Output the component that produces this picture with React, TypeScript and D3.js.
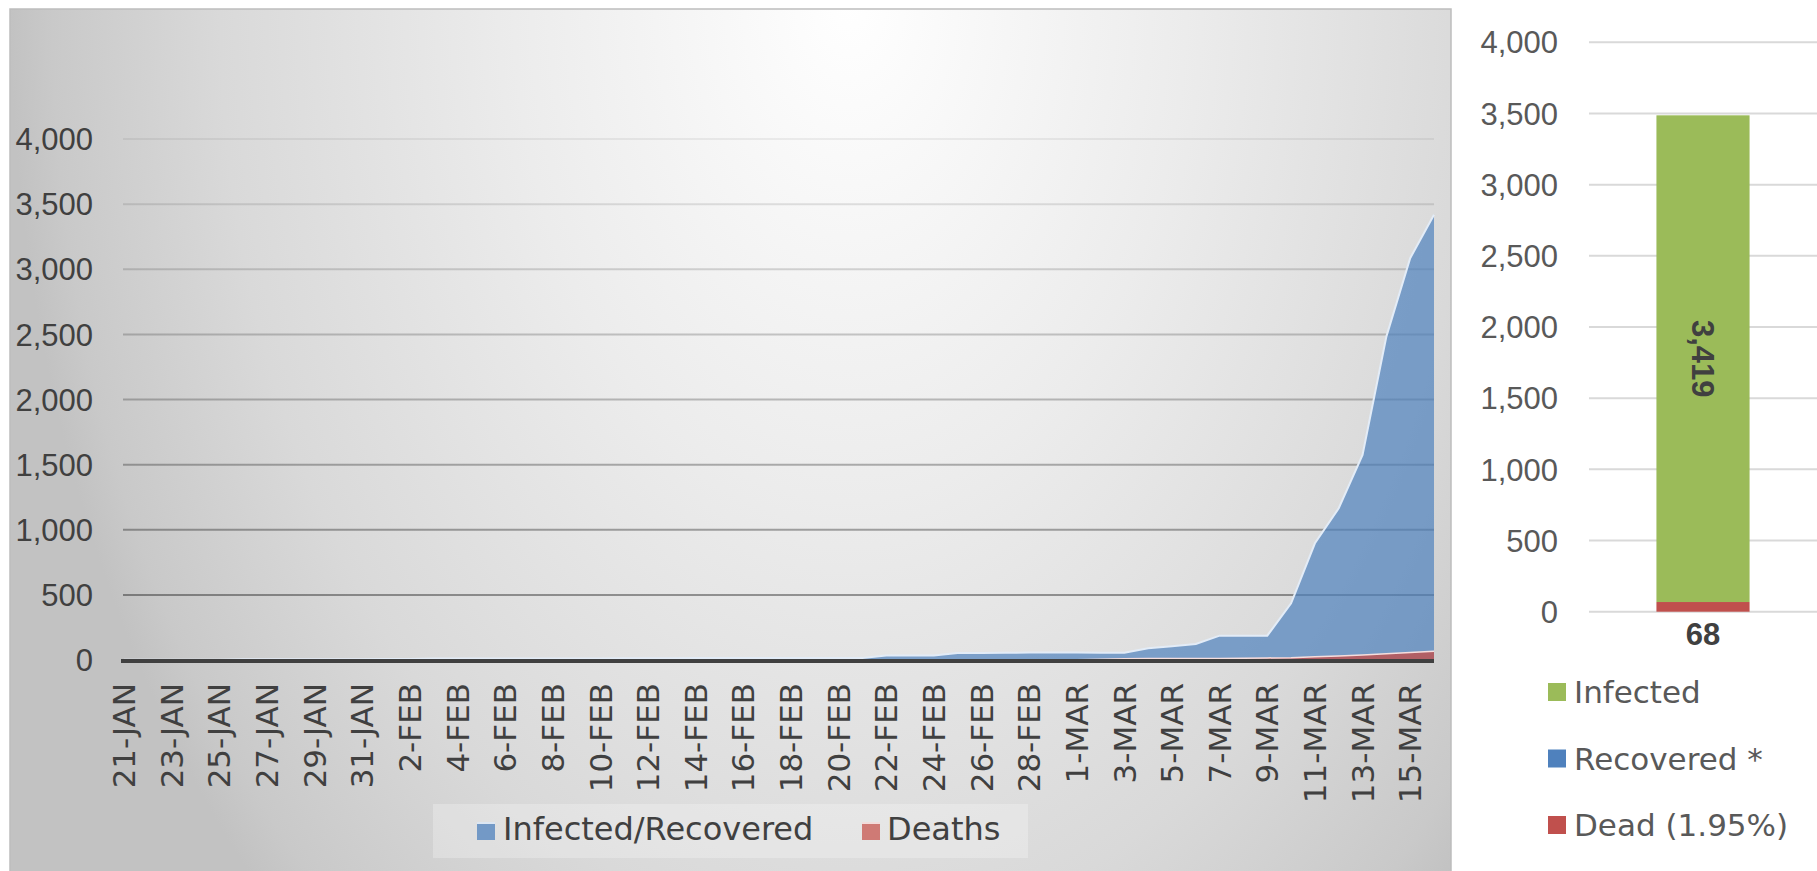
import React from 'react';
import * as d3 from 'd3';

const dates = [
  '21-JAN', '22-JAN', '23-JAN', '24-JAN', '25-JAN', '26-JAN', '27-JAN', '28-JAN', '29-JAN', '30-JAN', '31-JAN',
  '1-FEB', '2-FEB', '3-FEB', '4-FEB', '5-FEB', '6-FEB', '7-FEB', '8-FEB', '9-FEB', '10-FEB',
  '11-FEB', '12-FEB', '13-FEB', '14-FEB', '15-FEB', '16-FEB', '17-FEB', '18-FEB', '19-FEB', '20-FEB',
  '21-FEB', '22-FEB', '23-FEB', '24-FEB', '25-FEB', '26-FEB', '27-FEB', '28-FEB', '29-FEB',
  '1-MAR', '2-MAR', '3-MAR', '4-MAR', '5-MAR', '6-MAR', '7-MAR', '8-MAR', '9-MAR', '10-MAR',
  '11-MAR', '12-MAR', '13-MAR', '14-MAR', '15-MAR', '16-MAR',
];

const infectedRecovered = [
  1, 1, 1, 2, 2, 5, 5, 5, 5, 5, 6,
  8, 8, 11, 11, 11, 12, 12, 12, 12, 12,
  13, 13, 14, 15, 15, 15, 15, 15, 15, 15,
  15, 35, 35, 35, 53, 53, 55, 57, 58,
  57, 56, 55, 90, 105, 123, 187, 187, 187, 435,
  896, 1165, 1574, 2483, 3085, 3419,
];

const deaths = [
  0, 0, 0, 0, 0, 0, 0, 0, 0, 0, 0,
  0, 0, 0, 0, 0, 0, 0, 0, 0, 0,
  0, 0, 0, 0, 0, 0, 0, 0, 0, 0,
  0, 0, 0, 0, 0, 0, 0, 0, 1,
  1, 6, 9, 11, 12, 12, 12, 14, 16, 18,
  25, 30, 38, 48, 58, 68,
];

const yTicks = [0, 500, 1000, 1500, 2000, 2500, 3000, 3500, 4000];

// summary bar on the right
const barCategory = ['Total'];
const barSeries = ['Dead (1.95%)', 'Recovered *', 'Infected'];
const barValues = [68, 0, 3419];
const barColors = ['#c0504d', '#4f81bd', '#9bbb59'];
const legendOrder = ['Infected', 'Recovered *', 'Dead (1.95%)'];

const numFont = '"Liberation Sans", Arial, sans-serif';
const textFont = '"DejaVu Sans", Verdana, sans-serif';

export default function App() {
  const x = d3.scalePoint<string>().domain(dates).range([124, 1434]);
  const y = d3.scaleLinear().domain([0, 4000]).range([660, 139]);

  const area = d3
    .area<number>()
    .x((_, i) => x(dates[i]) as number)
    .y0(y(0))
    .y1((d) => y(d));
  const line = d3
    .line<number>()
    .x((_, i) => x(dates[i]) as number)
    .y((d) => y(d));

  const gridAlpha = d3.scaleLinear().domain([0, 4000]).range([0.42, 0.06]);

  const yR = d3.scaleLinear().domain([0, 4000]).range([611.7, 42.3]);
  const xR = d3.scaleBand().domain(barCategory).range([1589, 1817]).paddingInner(0.42).paddingOuter(0.42);

  const stack = d3.stack<any>().keys(barSeries)([
    Object.fromEntries(barSeries.map((s, i) => [s, barValues[i]])),
  ]);
  const bx = xR(barCategory[0]) as number;
  const bw = xR.bandwidth();
  const infSeg = stack[2][0];
  const deadSeg = stack[0][0];

  return (
    <svg
      width={1817}
      height={871}
      style={{ position: 'absolute', left: 0, top: 0, display: 'block' }}
    >
      <defs>
        <radialGradient
          id="bg"
          gradientUnits="userSpaceOnUse"
          cx={850}
          cy={0}
          r={1}
          gradientTransform="translate(850,0) scale(840,1250) translate(-850,0)"
        >
          <stop offset="0" stopColor="#ffffff" />
          <stop offset="0.4" stopColor="#ececec" />
          <stop offset="0.75" stopColor="#d9d9d9" />
          <stop offset="0.95" stopColor="#c9c9c9" />
          <stop offset="1" stopColor="#c2c2c2" />
        </radialGradient>
      </defs>
      <rect x={0} y={0} width={1817} height={871} fill="#ffffff" />
      <rect x={10} y={9} width={1441} height={870} fill="url(#bg)" stroke="#bdbdbd" strokeWidth={1.5} />

      {/* left gridlines */}
      {yTicks.map((t) => (
        <g key={t}>
          {t > 0 && (
            <line x1={123} x2={1434} y1={y(t)} y2={y(t)} stroke="#000" strokeOpacity={gridAlpha(t)} strokeWidth={2} />
          )}
          <text x={93} y={y(t)} dy="0.36em" textAnchor="end" fontSize={31} fill="#404040" fontFamily={numFont}>
            {d3.format(',')(t)}
          </text>
        </g>
      ))}

      <path d={area(infectedRecovered) as string} fill="#4f81bd" fillOpacity={0.7} />
      <path d={line(infectedRecovered) as string} fill="none" stroke="#e3ecf7" strokeWidth={2} />
      <path d={area(deaths) as string} fill="#c0504d" fillOpacity={0.8} />
      <path d={line(deaths) as string} fill="none" stroke="#f6dedd" strokeWidth={1.5} />

      <line x1={121} x2={1434} y1={661} y2={661} stroke="#404040" strokeWidth={4} />

      {dates.map((d, i) =>
        i % 2 === 0 ? (
          <text
            key={d}
            transform={`translate(${x(d)},683) rotate(-90)`}
            textAnchor="end"
            dy="0.36em"
            fontSize={31}
            fill="#404040"
            fontFamily={textFont}
          >
            {d}
          </text>
        ) : null
      )}

      {/* left legend */}
      <rect x={433} y={804} width={595} height={54} fill="#ffffff" fillOpacity={0.25} />
      <rect x={477} y={822} width={18} height={18} fill="#7399c6" />
      <rect x={477} y={822} width={18} height={2} fill="#dce6f2" />
      <text x={503} y={840} fontSize={32} fill="#404040" fontFamily={textFont}>Infected/Recovered</text>
      <rect x={862} y={822} width={18} height={18} fill="#cf7a75" />
      <rect x={862} y={822} width={18} height={2} fill="#f2dcdb" />
      <text x={887} y={840} fontSize={32} fill="#404040" fontFamily={textFont}>Deaths</text>

      {/* right summary bar */}
      {yTicks.map((t) => (
        <g key={'r' + t}>
          <line x1={1589} x2={1817} y1={yR(t)} y2={yR(t)} stroke="#d9d9d9" strokeWidth={2} />
          <text x={1558} y={yR(t)} dy="0.36em" textAnchor="end" fontSize={31} fill="#595959" fontFamily={numFont}>
            {d3.format(',')(t)}
          </text>
        </g>
      ))}
      {stack.map((s, i) => (
        <rect
          key={barSeries[i]}
          x={bx}
          width={bw}
          y={yR(s[0][1])}
          height={yR(s[0][0]) - yR(s[0][1])}
          fill={barColors[i]}
        />
      ))}
      <text
        transform={`translate(${bx + bw / 2},${(yR(infSeg[0]) + yR(infSeg[1])) / 2}) rotate(90)`}
        textAnchor="middle"
        dy="0.36em"
        fontSize={31}
        fontWeight="bold"
        fill="#404040"
        fontFamily={numFont}
      >
        {d3.format(',')(barValues[2])}
      </text>
      <text
        x={bx + bw / 2}
        y={yR(deadSeg[0]) + 33}
        textAnchor="middle"
        fontSize={31}
        fontWeight="bold"
        fill="#404040"
        fontFamily={numFont}
      >
        {d3.format(',')(barValues[0])}
      </text>

      {legendOrder.map((name, i) => {
        const c = barColors[barSeries.indexOf(name)];
        const ly = 683 + i * 66.5;
        return (
          <g key={name}>
            <rect x={1548} y={ly} width={18} height={18} fill={c} />
            <text x={1574} y={ly + 20} fontSize={31} fill="#595959" fontFamily={textFont}>
              {name}
            </text>
          </g>
        );
      })}
    </svg>
  );
}
